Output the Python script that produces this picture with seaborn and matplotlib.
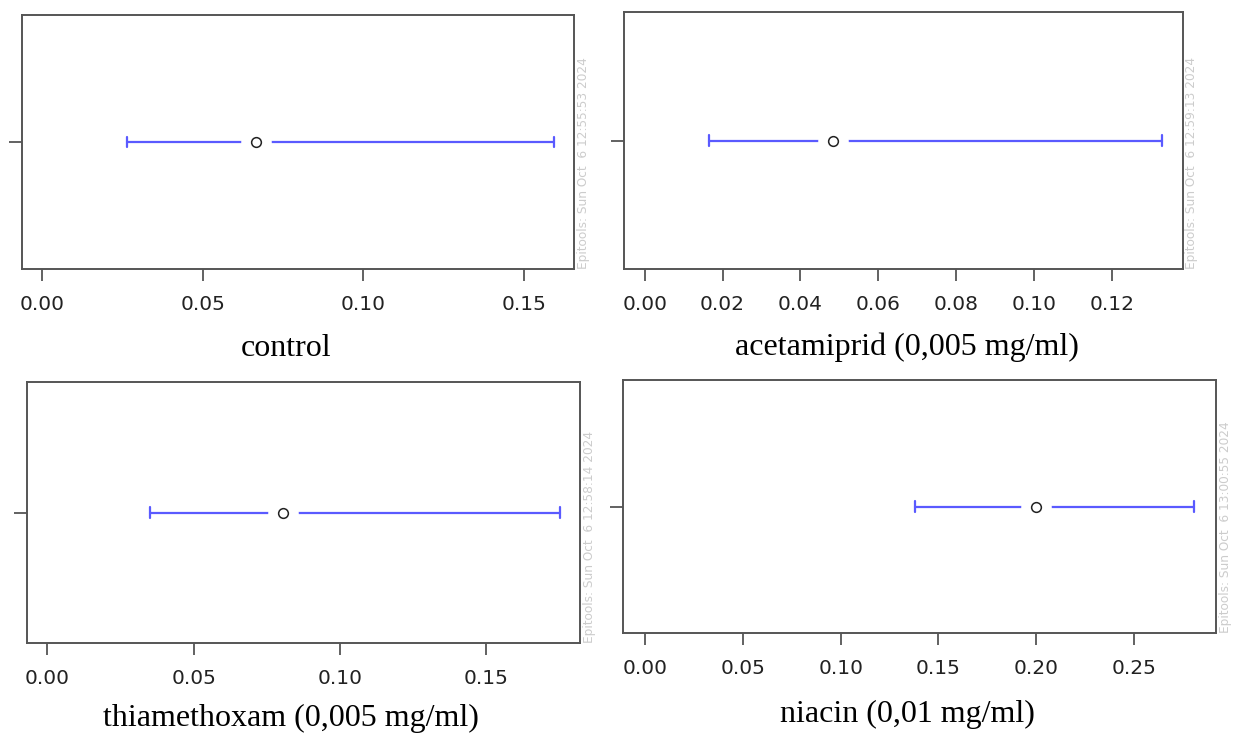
import numpy as np
import pandas as pd
import matplotlib
matplotlib.use("Agg")
import matplotlib.pyplot as plt
from matplotlib.ticker import MultipleLocator, FormatStrFormatter
import seaborn as sns

# Odds-ratio style estimates with confidence limits, one panel per treatment
groups = ["control", "acetamiprid (0,005 mg/ml)",
          "thiamethoxam (0,005 mg/ml)", "niacin (0,01 mg/ml)"]
estimate = [0.0665, 0.0483, 0.0805, 0.2000]
lower = [0.0262, 0.0165, 0.0349, 0.1381]
upper = [0.1592, 0.1329, 0.1751, 0.2806]
tick_step = [0.05, 0.02, 0.05, 0.05]
stamps = ["Epitools: Sun Oct  6 12:55:53 2024",
          "Epitools: Sun Oct  6 12:59:13 2024",
          "Epitools: Sun Oct  6 12:58:14 2024",
          "Epitools: Sun Oct  6 13:00:55 2024"]

# long-form table: median of the three values is the estimate, min/max the limits
df = pd.DataFrame({
    "group": np.repeat(groups, 3),
    "value": np.ravel(np.column_stack([lower, estimate, upper])),
})

sns.set_theme(style="white")
plt.rcParams["font.family"] = ["DejaVu Sans"]

W, H = 1238, 733
fig = plt.figure(figsize=(W / 100, H / 100), dpi=100)

# panel boxes in pixels: (x0, y0, x1, y1), y measured from the top
boxes = [(22, 15, 574, 269), (624, 12, 1183, 269),
         (27, 382, 580, 643), (623, 380, 1216, 633)]
stamp_dx = [10, 8, 10, 10]
captions = [(286, 356), (907, 355), (291, 726), (907, 722)]

BLUE = "#5a5aff"
EDGE = "#555555"


def span(v):
    return (v.min(), v.max())


for i, g in enumerate(groups):
    x0, y0, x1, y1 = boxes[i]
    ax = fig.add_axes([x0 / W, 1 - y1 / H, (x1 - x0) / W, (y1 - y0) / H])
    sub = df[df["group"] == g]

    # interval with caps; a large white marker opens a gap around the estimate
    sns.pointplot(data=sub, x="value", y="group", orient="h",
                  estimator="median", errorbar=span, capsize=0.04,
                  color=BLUE, markers="o", linestyles="none",
                  err_kws={"linewidth": 1.6, "color": BLUE, "zorder": 1},
                  markersize=22, markerfacecolor="white",
                  markeredgecolor="white", markeredgewidth=0, zorder=3,
                  ax=ax)
    # open circle at the point estimate
    sns.pointplot(data=sub, x="value", y="group", orient="h",
                  estimator="median", errorbar=None,
                  color="#222222", markers="o", linestyles="none",
                  markersize=7, markerfacecolor="white",
                  markeredgewidth=1.1, zorder=4, ax=ax)

    hi = upper[i]
    ax.set_xlim(-0.04 * hi, hi * 1.04)
    ax.set_ylim(0.5, -0.5)
    ax.xaxis.set_major_locator(MultipleLocator(tick_step[i]))
    ax.xaxis.set_major_formatter(FormatStrFormatter("%.2f"))
    ax.set_yticks([0])
    ax.set_yticklabels([""])
    ax.set_xlabel("")
    ax.set_ylabel("")
    for s in ax.spines.values():
        s.set_visible(True)
        s.set_color(EDGE)
        s.set_linewidth(1.4)
    ax.tick_params(axis="x", bottom=True, length=8.5, width=1.3, color=EDGE,
                   labelsize=14.5, labelcolor="#222222", pad=10)
    ax.tick_params(axis="y", left=True, length=9.5, width=1.3, color=EDGE)

    ax.text(1 + stamp_dx[i] / (x1 - x0), 0, stamps[i], transform=ax.transAxes,
            rotation=90, ha="center", va="bottom", fontsize=8.7,
            color="#cccccc", clip_on=False)

    cx, cy = captions[i]
    fig.text(cx / W, 1 - cy / H, g, ha="center", va="baseline",
             family="Liberation Serif", fontsize=23, color="black")

fig.savefig("out.png", dpi=100, facecolor="white")
